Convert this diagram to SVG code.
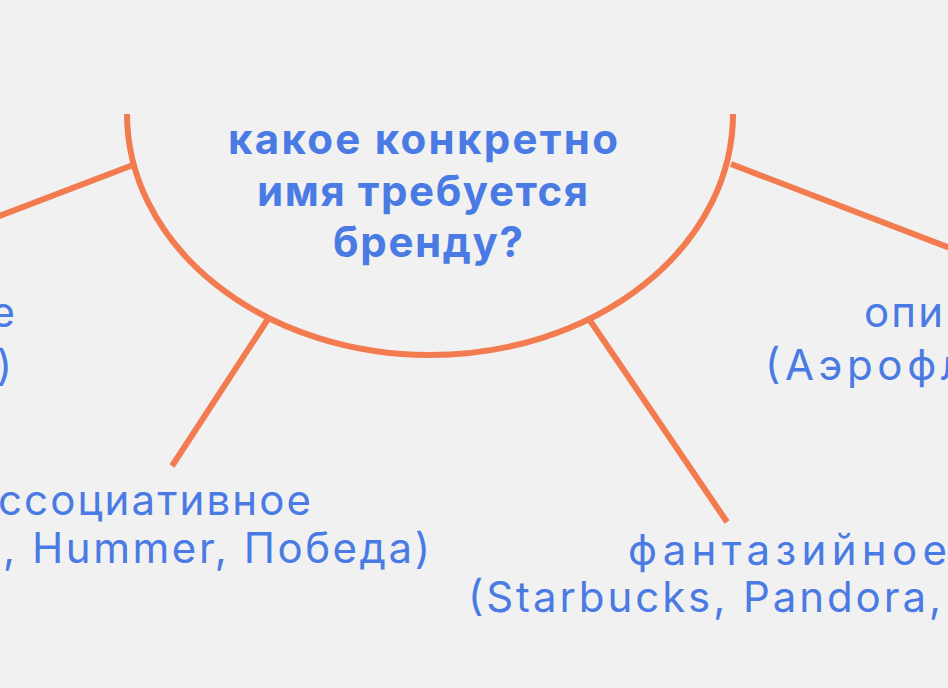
<svg xmlns="http://www.w3.org/2000/svg" width="948" height="688" viewBox="0 0 948 688">
<style>
.bg{fill:#f1f1f1}
.stroke{fill:none;stroke:#f37b50;stroke-width:6;stroke-linecap:butt}
.title{font-family:Inter,"Liberation Sans","DejaVu Sans",sans-serif;font-weight:700;font-size:42px;fill:#4a7ae3}
.lbl{font-family:Inter,"Liberation Sans","DejaVu Sans",sans-serif;font-weight:400;font-size:42px;fill:#4a7ae3}
</style>
<rect class="bg" x="0" y="0" width="948" height="688"/>
<g id="connectors">
<line class="stroke" x1="133" y1="165" x2="-6" y2="218"/>
<line class="stroke" x1="268" y1="319" x2="172" y2="466"/>
<line class="stroke" x1="589" y1="319" x2="727" y2="522"/>
<line class="stroke" x1="731" y1="164" x2="955" y2="250"/>
</g>
<g id="center">
<path class="stroke" d="M127 114 A303 241 0 0 0 733 114"/>
<text class="title" x="228" y="154" textLength="390" lengthAdjust="spacing">какое конкретно</text>
<text class="title" x="257" y="206" textLength="331" lengthAdjust="spacing">имя требуется</text>
<text class="title" x="333" y="257" textLength="190" lengthAdjust="spacing">бренду?</text>
</g>
<g id="node-left">
<text class="lbl" x="15" y="327" text-anchor="end">е</text>
<text class="lbl" x="12" y="380" text-anchor="end">)</text>
</g>
<g id="node-associative">
<text class="lbl" x="-2" y="515" textLength="313" lengthAdjust="spacing">ссоциативное</text>
<text class="lbl" x="3" y="563" textLength="427" lengthAdjust="spacing">, Hummer, Победа)</text>
</g>
<g id="node-fantasy">
<text class="lbl" x="628" y="565" textLength="319" lengthAdjust="spacing">фантазийное</text>
<text class="lbl" x="468" y="612" textLength="473" lengthAdjust="spacing">(Starbucks, Pandora,</text>
</g>
<g id="node-descriptive">
<text class="lbl" x="864" y="327" textLength="79" lengthAdjust="spacing">опи</text>
<text class="lbl" x="765" y="380" textLength="200" lengthAdjust="spacing">(Аэрофл</text>
</g>
</svg>
